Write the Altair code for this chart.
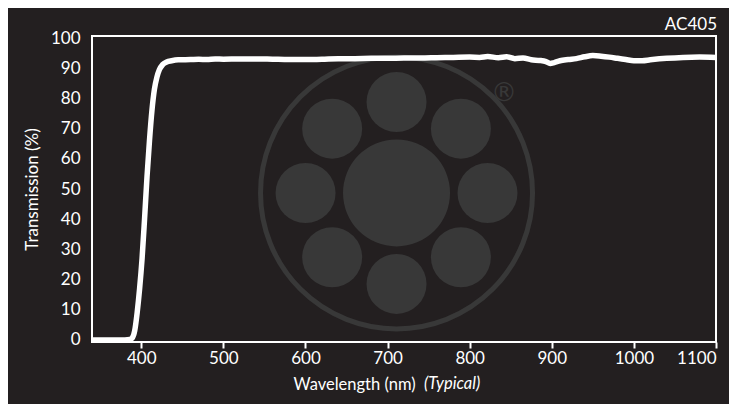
import altair as alt
import pandas as pd

# Transmission curve
wavelength = [340, 360, 380, 386, 389, 392, 395, 398, 401, 404, 407, 410, 413, 416, 419, 422, 426, 431,
              437, 445, 460, 470, 480, 490, 500, 520, 540, 560, 580, 600, 620, 640, 660, 680, 700,
              720, 740, 760, 780, 800, 812, 822, 835, 845, 855, 865, 875, 885, 893, 898, 903, 910,
              920, 930, 940, 950, 960, 970, 980, 990, 1000, 1010, 1020, 1040, 1060, 1080, 1100]
transmission = [0, 0, 0, 0.1, 0.6, 3, 9, 17, 27, 40, 54, 66, 76, 83, 87, 89.5, 91.2, 92.1,
                92.5, 92.8, 92.9, 93.0, 92.9, 93.1, 93.0, 93.1, 93.1, 93.0, 92.9, 92.9, 93.0, 93.2, 93.2, 93.3, 93.3,
                93.4, 93.4, 93.5, 93.6, 93.7, 93.6, 93.9, 93.5, 93.8, 93.2, 93.4, 92.8, 92.6, 92.2, 91.6, 91.9, 92.5,
                92.9, 93.2, 93.8, 94.2, 94.0, 93.7, 93.3, 92.9, 92.5, 92.5, 92.8, 93.3, 93.6, 93.7, 93.6]

x_ticks = [400, 500, 600, 700, 800, 900, 1000, 1100]
y_ticks = [0, 10, 20, 30, 40, 50, 60, 70, 80, 90, 100]

# Watermark logo (in data units)
logo_x = [710.9, 710.9, 789.3, 821.7, 789.3, 710.9, 632.5, 600.1, 632.5]
logo_y = [48.7, 78.85, 70.0, 48.7, 27.4, 18.55, 27.4, 48.7, 70.0]
logo_size = [11449, 3600, 3600, 3600, 3600, 3600, 3600, 3600, 3600]

curve = pd.DataFrame({"nm": wavelength, "T": transmission})
logo = pd.DataFrame({"nm": logo_x, "T": logo_y, "s": logo_size})
ring = pd.DataFrame({"nm": [710.9], "T": [48.7]})
reg = pd.DataFrame({"nm": [841.8], "T": [81.8], "t": ["®"]})

FONT = "Lato"
BG = "#231f20"
LOGO = "#383838"

xs = alt.Scale(domain=[340, 1100], nice=False, zero=False)
ys = alt.Scale(domain=[-0.7, 100.7], nice=False, zero=False)

xax = alt.Axis(values=x_ticks, title="Wavelength (nm)", format="d",
               grid=False, domain=False, ticks=True, tickSize=6, tickWidth=2, tickColor="white",
               labelColor="white", labelFont=FONT, labelFontSize=17, labelPadding=2, labelOverlap=False,
               titleColor="white", titleFont=FONT, titleFontSize=16.5, titleFontWeight="normal",
               titlePadding=10, titleX=201, titleAnchor="start")
yax = alt.Axis(values=y_ticks, title="Transmission (%)", grid=False, domain=False,
               ticks=False, labelColor="white", labelFont=FONT, labelFontSize=17, labelPadding=12,
               labelOverlap=False,
               titleColor="white", titleFont=FONT, titleFontSize=17, titleFontWeight="normal",
               titlePadding=9)

X = alt.X("nm:Q", scale=xs, axis=xax)
Y = alt.Y("T:Q", scale=ys, axis=yax)

ring_l = alt.Chart(ring).mark_point(shape="circle", filled=False, size=73984, strokeWidth=5,
                                    color=LOGO, opacity=1).encode(x=X, y=Y)
dots = alt.Chart(logo).mark_circle(color=LOGO, opacity=1).encode(
    x=X, y=Y, size=alt.Size("s:Q", scale=None, legend=None))
regl = alt.Chart(reg).mark_text(color=LOGO, font="DejaVu Sans", fontSize=26).encode(x=X, y=Y, text="t:N")
line = alt.Chart(curve).mark_line(color="white", strokeWidth=5.5, interpolate="monotone", clip=True,
                                  strokeCap="round", strokeJoin="round").encode(x=X, y=Y)
typ = alt.Chart(pd.DataFrame({"t": ["(Typical)"]})).mark_text(
    color="white", font=FONT, fontSize=16.5, fontStyle="italic", align="left", baseline="alphabetic").encode(
    x=alt.value(332), y=alt.value(353), text="t:N")

chart = alt.layer(ring_l, dots, regl, line, typ).properties(
    width=624, height=306,
    title=alt.TitleParams("AC405", anchor="end", color="white", font=FONT, fontSize=17,
                          fontWeight="normal", offset=-5),
    autosize=alt.AutoSizeParams(type="none"),
    padding={"left": 84, "top": 28, "right": 13, "bottom": 62},
    background=BG,
).configure_view(stroke="white", strokeWidth=2)

chart.save("out.html", embed_options={"renderer": "svg", "actions": False})
